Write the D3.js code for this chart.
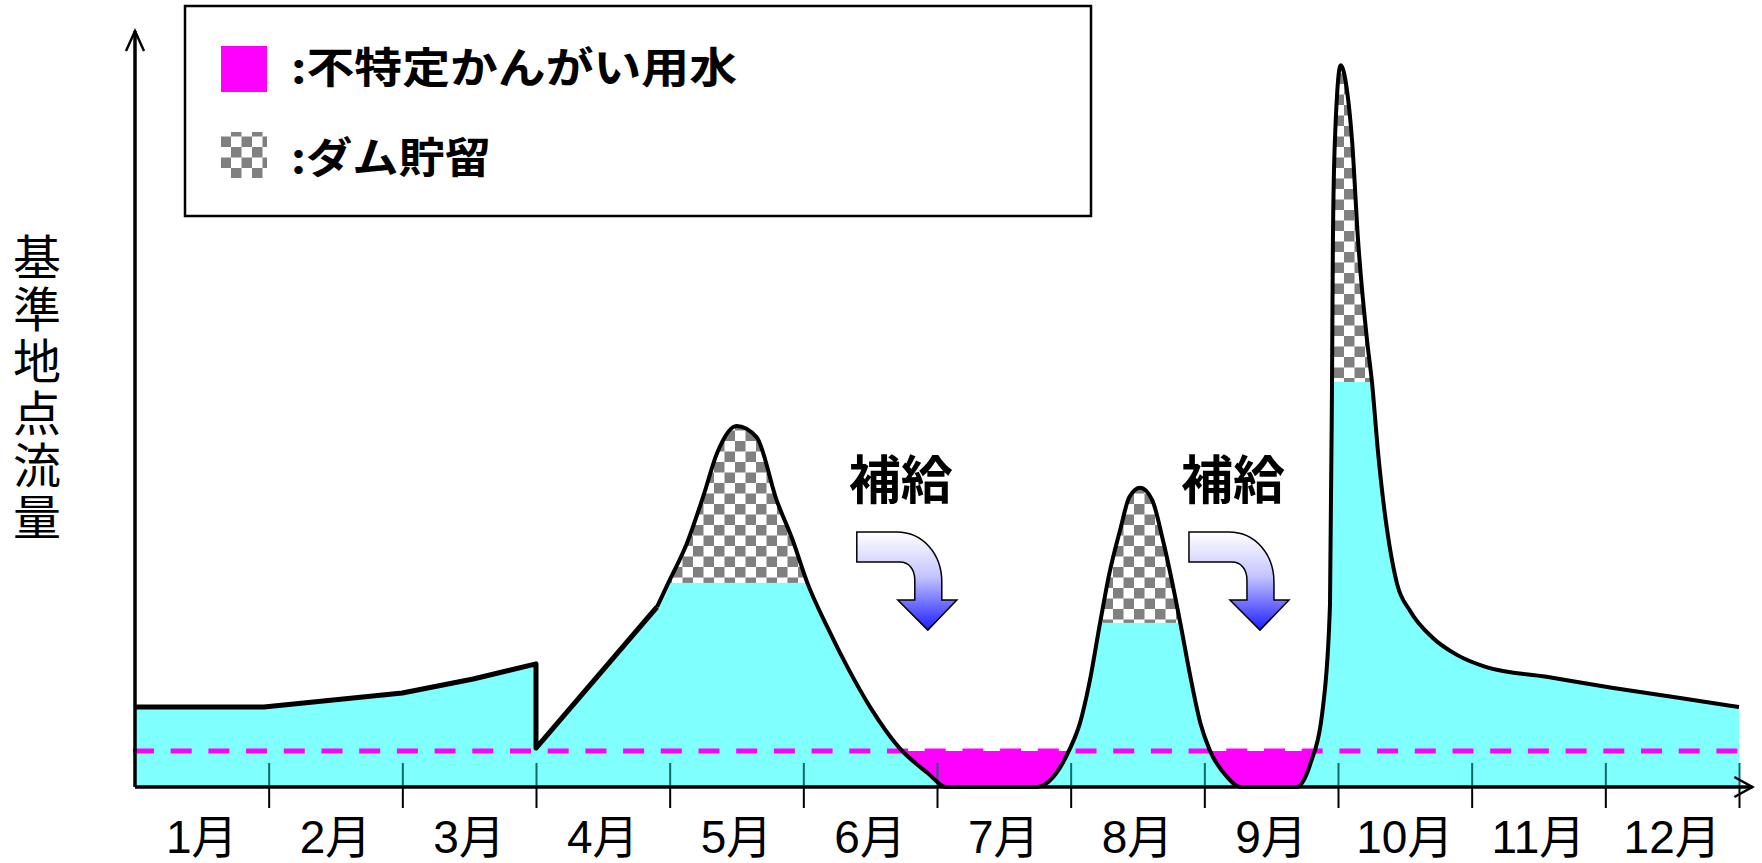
<!DOCTYPE html>
<html lang="ja">
<head>
<meta charset="utf-8">
<title>基準地点流量</title>
<script src="https://cdn.jsdelivr.net/npm/d3@7"></script>
<style>
  html, body { margin: 0; padding: 0; background: #fff; }
  svg { display: block; }
</style>
</head>
<body>
<div id="chart"></div>
<script>
// month labels under the x axis
const months = ["1月", "2月", "3月", "4月", "5月", "6月", "7月", "8月", "9月", "10月", "11月", "12月"];

// flow at the reference point: [month position, flow]
// Jan - early Apr is drawn with straight segments (incl. the drop at the start of Apr)
const flowLinear = [
  [0, 22.2], [0.965, 22.2], [2.0, 26.1], [2.53, 30.0], [3.0, 34.2], [3.0, 10.8], [3.905, 50]
];
// the rest of the year is a smooth curve
const flowSmooth = [
  [3.905, 50], [3.99, 56.7], [4.13, 67.8], [4.25, 80.6], [4.355, 92.8], [4.5, 100.3],
  [4.65, 97.2], [4.8, 79.7], [4.92, 68.6], [5.03, 56.7], [5.18, 44.4], [5.33, 33.3],
  [5.5, 22.2], [5.72, 10.8], [5.93, 3.9], [6.07, 0], [6.75, 0], [6.87, 2.8],
  [6.99, 10.3], [7.07, 17.8], [7.14, 28.9], [7.22, 45.6], [7.29, 59.4], [7.37, 71.4],
  [7.44, 80.6], [7.52, 83.1], [7.61, 79.7], [7.69, 68.6], [7.82, 45.6], [7.89, 31.7],
  [7.97, 17.8], [8.04, 10.3], [8.17, 2.8], [8.27, 0], [8.69, 0], [8.79, 6.1],
  [8.89, 23], [8.94, 50.6], [8.955, 111.7], [8.962, 151.9], [8.977, 179.7], [9.02, 200.5],
  [9.067, 193.6], [9.105, 179.7], [9.15, 151.9], [9.217, 124.2], [9.254, 112.5], [9.3, 92.8],
  [9.44, 56.7], [9.54, 48.9], [9.71, 41.4], [9.89, 36.7], [10.11, 33.3], [10.56, 30.6],
  [11.06, 27.5], [11.56, 24.7], [12, 22.2]
];

// dam storage: month range of each flood and the flow above which it is stored
const storageFrom = [4.0, 7.0, 8.8];
const storageTo = [5.5, 8.0, 9.6];
const storageLevel = [56.7, 45.6, 112.5];

// unspecified irrigation water requirement (dashed line)
const demandLevel = 10;

const legendLabels = [":不特定かんがい用水", ":ダム貯留"];
const yTitle = "基準地点流量";
const supplyText = "補給";

const width = 1762, height = 863;

const svg = d3.select("#chart").append("svg")
  .attr("width", width)
  .attr("height", height);

const x = d3.scaleLinear().domain([0, 12]).range([135, 1739]);
const y = d3.scaleLinear().domain([0, 200]).range([787, 67]);

const defs = svg.append("defs");

// checker pattern for dam storage
const pat = defs.append("pattern")
  .attr("id", "checker")
  .attr("patternUnits", "userSpaceOnUse")
  .attr("width", 21).attr("height", 21);
pat.append("rect").attr("width", 21).attr("height", 21).attr("fill", "#fff");
pat.append("rect").attr("width", 10.5).attr("height", 10.5).attr("fill", "#808080");
pat.append("rect").attr("x", 10.5).attr("y", 10.5).attr("width", 10.5).attr("height", 10.5).attr("fill", "#808080");

// gradient for the supply arrows
const grad = defs.append("linearGradient")
  .attr("id", "arrowGrad")
  .attr("x1", 0).attr("y1", 0).attr("x2", 0).attr("y2", 1);
grad.append("stop").attr("offset", "0%").attr("stop-color", "#ffffff");
grad.append("stop").attr("offset", "45%").attr("stop-color", "#c4c4ff");
grad.append("stop").attr("offset", "100%").attr("stop-color", "#1e1eff");

// flow curve path
const lineLinear = d3.line().x(d => x(d[0])).y(d => y(d[1]));
const lineSmooth = d3.line().x(d => x(d[0])).y(d => y(d[1])).curve(d3.curveMonotoneX);
const curveD = lineLinear(flowLinear) + lineSmooth(flowSmooth).replace(/^M/, "L");

const underD = curveD + `L${x(12)},${y(0)}L${x(0)},${y(0)}Z`;
const aboveD = curveD + `L${x(12)},0L${x(0)},0Z`;

defs.append("clipPath").attr("id", "underCurve").append("path").attr("d", underD);
defs.append("clipPath").attr("id", "aboveCurve").append("path").attr("d", aboveD);

// flow area
svg.append("path")
  .attr("d", underD)
  .attr("fill", "#80ffff");

// shortage made up by supply (between curve and demand line)
svg.append("rect")
  .attr("x", x(0))
  .attr("y", y(demandLevel))
  .attr("width", x(12) - x(0))
  .attr("height", y(0) - y(demandLevel))
  .attr("fill", "#ff00ff")
  .attr("clip-path", "url(#aboveCurve)");

// dam storage
svg.append("g")
  .attr("clip-path", "url(#underCurve)")
  .selectAll("rect")
  .data(storageLevel)
  .join("rect")
  .attr("x", (d, i) => x(storageFrom[i]))
  .attr("y", 0)
  .attr("width", (d, i) => x(storageTo[i]) - x(storageFrom[i]))
  .attr("height", d => y(d))
  .attr("fill", "url(#checker)");

// demand line
svg.append("line")
  .attr("x1", x(0) - 2).attr("x2", x(12))
  .attr("y1", y(demandLevel)).attr("y2", y(demandLevel))
  .attr("stroke", "#ff00ff")
  .attr("stroke-width", 5)
  .attr("stroke-dasharray", "21 16.7");

// month ticks (above and below the axis)
const tickVals = d3.range(1, 13);
const ticksUp = svg.append("g")
  .attr("transform", `translate(0,${y(0)})`)
  .call(d3.axisTop(x).tickValues(tickVals).tickSize(24).tickFormat(""));
ticksUp.select(".domain").remove();
ticksUp.selectAll("line").attr("stroke", "#0c6a6a").attr("stroke-width", 2);

const ticksDown = svg.append("g")
  .attr("transform", `translate(0,${y(0)})`)
  .call(d3.axisBottom(x).tickValues(tickVals).tickSize(21).tickFormat(""));
ticksDown.select(".domain").remove();
ticksDown.selectAll("line").attr("stroke", "#000").attr("stroke-width", 2);

// curve outline: the straight part is drawn a bit heavier, as in the original
svg.append("path")
  .attr("d", lineLinear(flowLinear))
  .attr("fill", "none")
  .attr("stroke", "#000")
  .attr("stroke-width", 5)
  .attr("stroke-linejoin", "round");
svg.append("path")
  .attr("d", lineSmooth(flowSmooth))
  .attr("fill", "none")
  .attr("stroke", "#000")
  .attr("stroke-width", 4)
  .attr("stroke-linejoin", "round");

// axes with arrow heads
const axisG = svg.append("g")
  .attr("stroke", "#000")
  .attr("stroke-width", 3.5)
  .attr("fill", "none");
axisG.append("line")
  .attr("x1", x(0)).attr("y1", y(0))
  .attr("x2", x(12.1)).attr("y2", y(0));
axisG.append("line")
  .attr("x1", x(0)).attr("y1", y(0))
  .attr("x2", x(0)).attr("y2", y(210));
axisG.append("polyline")
  .attr("stroke-width", 2.5)
  .attr("points", `${x(12.1) - 18},${y(0) - 10} ${x(12.1)},${y(0)} ${x(12.1) - 18},${y(0) + 10}`);
axisG.append("polyline")
  .attr("stroke-width", 2.5)
  .attr("points", `${x(0) - 9},${y(210) + 20} ${x(0)},${y(210)} ${x(0) + 9},${y(210) + 20}`);

// month labels
svg.append("g")
  .selectAll("text")
  .data(months)
  .join("text")
  .attr("x", (d, i) => x(i + 0.5))
  .attr("y", 853)
  .attr("text-anchor", "middle")
  .attr("font-family", "'Liberation Sans', 'Noto Sans CJK JP', sans-serif")
  .attr("font-size", 46)
  .attr("fill", "#000")
  .text(d => d);

// y axis title, written vertically
svg.append("text")
  .attr("x", 37)
  .attr("y", 233)
  .attr("writing-mode", "vertical-rl")
  .attr("font-family", "'Noto Sans CJK JP', sans-serif")
  .attr("font-size", 48)
  .attr("letter-spacing", 4)
  .attr("fill", "#000")
  .text(yTitle);

// supply annotations: label and bent arrow
const supplyAt = [5.4, 7.885];
const arrowShape = "M0,0 H40 C66,0 85,22 85,50 V68 H100 L71,98 L41,68 H58 V48 C58,37 52,30 43,30 H0 Z";
supplyAt.forEach(m => {
  svg.append("text")
    .attr("x", x(m) + 44)
    .attr("y", y(86.2))
    .attr("text-anchor", "middle")
    .attr("dominant-baseline", "central")
    .attr("font-family", "'Noto Sans CJK JP', sans-serif")
    .attr("font-weight", 700)
    .attr("font-size", 52)
    .attr("fill", "#000")
    .text(supplyText);
  svg.append("path")
    .attr("transform", `translate(${x(m)},${y(70.8)})`)
    .attr("d", arrowShape)
    .attr("fill", "url(#arrowGrad)")
    .attr("stroke", "#000")
    .attr("stroke-width", 1.5);
});

// legend
const legend = svg.append("g");
legend.append("rect")
  .attr("x", 185).attr("y", 6)
  .attr("width", 906).attr("height", 210)
  .attr("fill", "#fff")
  .attr("stroke", "#000")
  .attr("stroke-width", 2.5);
const legendFill = ["#ff00ff", "url(#checker)"];
const legendWidths = [446, 200];
legendLabels.forEach((lab, i) => {
  legend.append("rect")
    .attr("x", 221).attr("y", 46 + i * 86)
    .attr("width", 46).attr("height", 46)
    .attr("fill", legendFill[i]);
  legend.append("text")
    .attr("x", 291)
    .attr("y", 64 + i * 90)
    .attr("dominant-baseline", "central")
    .attr("font-family", "'Noto Sans CJK JP', sans-serif")
    .attr("font-weight", 700)
    .attr("font-size", 42)
    .attr("textLength", legendWidths[i])
    .attr("lengthAdjust", "spacingAndGlyphs")
    .attr("fill", "#000")
    .text(lab);
});
</script>
</body>
</html>
